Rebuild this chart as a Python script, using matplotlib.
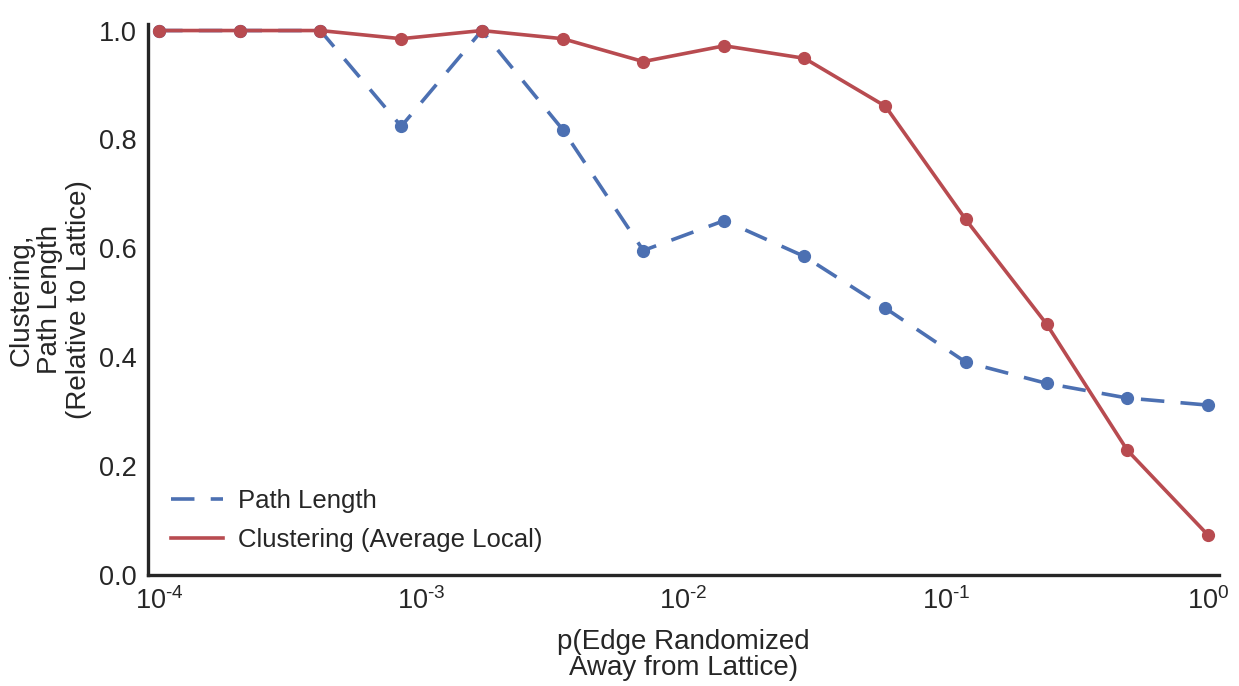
import numpy as np
import matplotlib
matplotlib.use("Agg")
import matplotlib.pyplot as plt
from matplotlib.ticker import FuncFormatter, FixedLocator

p_values = [1.0e-4, 2.03e-4, 4.12e-4, 8.38e-4, 1.70e-3, 3.46e-3, 7.02e-3,
            1.43e-2, 2.89e-2, 5.88e-2, 0.119, 0.242, 0.492, 1.0]
path_length = [1.0, 1.0, 1.0, 0.824, 1.0, 0.818, 0.596, 0.651, 0.585, 0.490,
               0.391, 0.352, 0.325, 0.312]
clustering = [1.0, 1.0, 1.0, 0.985, 1.0, 0.985, 0.943, 0.972, 0.949, 0.861,
              0.653, 0.461, 0.229, 0.073]
x_ticks = [1e-4, 1e-3, 1e-2, 1e-1, 1e0]
y_ticks = [0.0, 0.2, 0.4, 0.6, 0.8, 1.0]

blue = "#4C70B2"
red = "#B84B50"

plt.rcParams['font.family'] = ['Liberation Sans', 'DejaVu Sans']
plt.rcParams['mathtext.fontset'] = 'custom'
plt.rcParams['mathtext.rm'] = 'Liberation Sans'
plt.rcParams['mathtext.it'] = 'Liberation Sans'
plt.rcParams['axes.unicode_minus'] = False

fig = plt.figure(figsize=(12.39, 6.86), dpi=100)
ax = fig.add_axes([0.1195, 0.1618, 0.8645, 0.8032])

ax.plot(p_values, path_length, color=blue, lw=2.6, ls=(0, (6.5, 4.5)), label="Path Length")
ax.plot(p_values, clustering, color=red, lw=2.6, label="Clustering (Average Local)")
ax.plot(p_values, path_length, 'o', color=blue, ms=8.5, ls='none')
ax.plot(p_values, clustering, 'o', color=red, ms=8.5, ls='none')

ax.set_xscale('log')
ax.set_xlim(10 ** (-4 - 0.042), 10 ** (0.042))
ax.set_ylim(0, 1.012)
ax.xaxis.set_major_locator(FixedLocator(x_ticks))


def fmt(v, pos):
    n = int(round(np.log10(v)))
    if n < 0:
        return r"$\mathdefault{10^{\text{-}%d}}$" % (-n)
    return r"$\mathdefault{10^{%d}}$" % n


ax.xaxis.set_major_formatter(FuncFormatter(fmt))
ax.set_yticks(y_ticks)
ax.minorticks_off()
ax.tick_params(axis='both', length=0, labelsize=19.5, colors='#262626')
ax.tick_params(axis='y', pad=8)
ax.tick_params(axis='x', pad=9)

for s in ['top', 'right']:
    ax.spines[s].set_visible(False)
for s in ['left', 'bottom']:
    ax.spines[s].set_linewidth(2.4)
    ax.spines[s].set_color('#262626')

ax.set_xlabel("p(Edge Randomized\nAway from Lattice)", fontsize=20, color='#262626',
              labelpad=10, linespacing=1.0)
ax.set_ylabel("Clustering,\nPath Length\n(Relative to Lattice)", fontsize=20, color='#262626',
              labelpad=5, linespacing=1.15)

leg = ax.legend(loc='lower left', frameon=False, fontsize=18.5, handlelength=2.0,
                borderaxespad=0.5, labelspacing=0.56, handletextpad=0.6)
for t in leg.get_texts():
    t.set_color('#262626')

fig.savefig("out.png", dpi=100)
